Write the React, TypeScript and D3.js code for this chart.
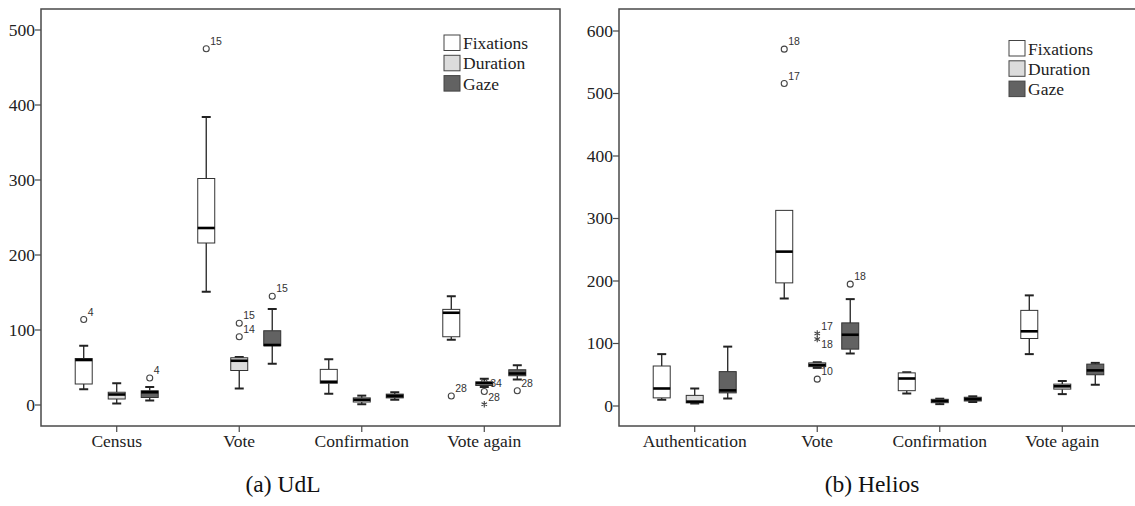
import React from "react";
import * as d3 from "d3";

// ---- data ----
const seriesNames = ["Fixations", "Duration", "Gaze"];
const seriesFill = ["#ffffff", "#dcdcdc", "#626262"];

const udlCategories = ["Census", "Vote", "Confirmation", "Vote again"];
// [min, q1, median, q3, max]
const udlFixations = [
  [21, 28, 60, 62, 79],
  [151, 216, 236, 302, 384],
  [15, 29, 31, 47.5, 61],
  [87, 91, 123, 127.5, 145],
];
const udlDuration = [
  [2, 8, 14, 17, 29],
  [22, 46, 59, 63, 64],
  [1, 4, 7, 9.5, 12.5],
  [24, 26, 29, 31, 35],
];
const udlGaze = [
  [6, 10, 17, 19, 24],
  [55, 79, 80, 99, 128],
  [7, 9.5, 12, 14.5, 17],
  [34, 39, 42, 47, 53],
];
const udlOutliers = [
  { cat: "Census", series: "Fixations", value: 114, label: "4", kind: "circle", pos: "ur" },
  { cat: "Census", series: "Gaze", value: 36, label: "4", kind: "circle", pos: "ur" },
  { cat: "Vote", series: "Fixations", value: 475, label: "15", kind: "circle", pos: "ur" },
  { cat: "Vote", series: "Duration", value: 109, label: "15", kind: "circle", pos: "ur" },
  { cat: "Vote", series: "Duration", value: 91, label: "14", kind: "circle", pos: "ur" },
  { cat: "Vote", series: "Gaze", value: 145, label: "15", kind: "circle", pos: "ur" },
  { cat: "Vote again", series: "Fixations", value: 12, label: "28", kind: "circle", pos: "ur" },
  { cat: "Vote again", series: "Duration", value: 30, label: "34", kind: "circle", pos: "r" },
  { cat: "Vote again", series: "Duration", value: 18, label: "28", kind: "circle", pos: "dr" },
  { cat: "Vote again", series: "Duration", value: 1, label: "", kind: "star", pos: "ur" },
  { cat: "Vote again", series: "Gaze", value: 19, label: "28", kind: "circle", pos: "ur" },
];
const udlTicks = [0, 100, 200, 300, 400, 500];

const heliosCategories = ["Authentication", "Vote", "Confirmation", "Vote again"];
const heliosFixations = [
  [10, 13, 28, 64, 83],
  [172, 197, 247, 313, 313],
  [20, 24.5, 44, 53, 54],
  [83, 108, 119.5, 153, 177],
];
const heliosDuration = [
  [4, 5, 7, 17, 28],
  [61, 63, 65.5, 69, 70],
  [3, 5.3, 8, 10.7, 11.7],
  [19, 27, 31.5, 35, 40],
];
const heliosGaze = [
  [12, 21, 25, 55, 95],
  [84, 91, 114, 133, 171],
  [6.4, 8, 11, 14, 15.5],
  [34, 50, 57, 67, 69],
];
const heliosOutliers = [
  { cat: "Vote", series: "Fixations", value: 571, label: "18", kind: "circle", pos: "ur" },
  { cat: "Vote", series: "Fixations", value: 516, label: "17", kind: "circle", pos: "ur" },
  { cat: "Vote", series: "Duration", value: 116, label: "17", kind: "star", pos: "ur" },
  { cat: "Vote", series: "Duration", value: 107, label: "18", kind: "star", pos: "dr" },
  { cat: "Vote", series: "Duration", value: 43, label: "10", kind: "circle", pos: "ur" },
  { cat: "Vote", series: "Gaze", value: 195, label: "18", kind: "circle", pos: "ur" },
];
const heliosTicks = [0, 100, 200, 300, 400, 500, 600];

const SERIF = "'Liberation Serif', 'Times New Roman', serif";
const SANS = "'Liberation Sans', Arial, sans-serif";
const FRAME = "#4a4a4a";

type Outlier = { cat: string; series: string; value: number; label: string; kind: string; pos: string };

function Panel(props: {
  left: number; right: number; top: number; bottom: number;
  yDomain: [number, number]; ticks: number[];
  categories: string[]; data: number[][][]; outliers: Outlier[];
  legendX: number; legendY: number; caption: string; captionX: number;
}) {
  const { left, right, top, bottom, yDomain, ticks, categories, data, outliers, legendX, legendY, caption, captionX } = props;
  const y = d3.scaleLinear().domain(yDomain).range([bottom, top]);
  const x = d3.scalePoint<string>().domain(categories).range([left, left + 519]).padding(0.618);
  const off = d3.scaleBand<string>().domain(seriesNames).range([-49.5, 49.5]);
  const boxW = 17;
  const capW = 9;
  const sx = (cat: string, s: string) => (x(cat) as number) + (off(s) as number) + off.bandwidth() / 2;
  const star = d3.symbol(d3.symbolAsterisk, 28)();

  return (
    <g>
      {/* frame */}
      <rect x={left} y={top} width={right - left} height={bottom - top} fill="none" stroke={FRAME} strokeWidth={1.5} />
      {/* y ticks */}
      {ticks.map((t) => (
        <g key={t}>
          <line x1={left - 6} x2={left} y1={y(t)} y2={y(t)} stroke={FRAME} strokeWidth={1.2} />
          <text x={left - 6} y={y(t)} dy="0.33em" textAnchor="end" fontFamily={SERIF} fontSize={17.5} fill="#222">
            {t}
          </text>
        </g>
      ))}
      {/* x ticks */}
      {categories.map((c) => (
        <g key={c}>
          <line x1={x(c)} x2={x(c)} y1={bottom} y2={bottom + 6} stroke={FRAME} strokeWidth={1.2} />
          <text x={x(c)} y={bottom + 21} textAnchor="middle" fontFamily={SERIF} fontSize={17.5} fill="#222">
            {c}
          </text>
        </g>
      ))}
      {/* outlier markers drawn beneath boxes */}
      {outliers.map((o, i) => {
        const cx = sx(o.cat, o.series);
        const cy = y(o.value);
        return o.kind === "star" ? (
          <path key={i} d={star as string} transform={`translate(${cx},${cy})`} fill="none" stroke="#444" strokeWidth={1.1} />
        ) : (
          <circle key={i} cx={cx} cy={cy} r={3} fill="#fff" stroke="#444" strokeWidth={1.1} />
        );
      })}
      {/* boxes */}
      {categories.map((c, ci) =>
        seriesNames.map((s, si) => {
          const [mn, q1, md, q3, mx] = data[si][ci];
          const cx = sx(c, s);
          return (
            <g key={c + s}>
              <line x1={cx} x2={cx} y1={y(mx)} y2={y(q3)} stroke="#222" strokeWidth={1.3} />
              <line x1={cx} x2={cx} y1={y(q1)} y2={y(mn)} stroke="#222" strokeWidth={1.3} />
              {mx > q3 && <line x1={cx - capW / 2} x2={cx + capW / 2} y1={y(mx)} y2={y(mx)} stroke="#222" strokeWidth={2} />}
              {mn < q1 && <line x1={cx - capW / 2} x2={cx + capW / 2} y1={y(mn)} y2={y(mn)} stroke="#222" strokeWidth={2} />}
              <rect x={cx - boxW / 2} y={y(q3)} width={boxW} height={Math.max(1, y(q1) - y(q3))} fill={seriesFill[si]} stroke="#333" strokeWidth={1} />
              <line x1={cx - boxW / 2} x2={cx + boxW / 2} y1={y(md)} y2={y(md)} stroke="#000" strokeWidth={2.6} />
            </g>
          );
        })
      )}
      {/* outlier labels */}
      {outliers.map((o, i) => {
        if (!o.label) return null;
        const cx = sx(o.cat, o.series);
        const cy = y(o.value);
        const dx = o.pos === "r" ? 6 : 4;
        const dy = o.pos === "dr" ? 9 : o.pos === "r" ? 4 : -4;
        return (
          <text key={"l" + i} x={cx + dx} y={cy + dy} fontFamily={SANS} fontSize={10.5} fill="#333">
            {o.label}
          </text>
        );
      })}
      {/* legend */}
      {seriesNames.map((s, i) => (
        <g key={s}>
          <rect x={legendX} y={legendY + i * 20.3} width={16} height={15.5} fill={seriesFill[i]} stroke="#444" strokeWidth={1} />
          <text x={legendX + 19} y={legendY + i * 20.3 + 14} fontFamily={SERIF} fontSize={17.5} fill="#222">
            {s}
          </text>
        </g>
      ))}
      <text x={captionX} y={492} textAnchor="middle" fontFamily={SERIF} fontSize={23.5} fill="#111">
        {caption}
      </text>
    </g>
  );
}

export default function App() {
  return (
    <svg width={1135} height={506} style={{ position: "absolute", left: 0, top: 0, background: "#fff" }}>
      <rect x={0} y={0} width={1135} height={506} fill="#fff" />
      <Panel
        left={41} right={560} top={9} bottom={426}
        yDomain={[-28, 528]} ticks={udlTicks}
        categories={udlCategories} data={[udlFixations, udlDuration, udlGaze]} outliers={udlOutliers}
        legendX={444} legendY={35} caption="(a) UdL" captionX={283}
      />
      <Panel
        left={619} right={1138} top={9} bottom={426}
        yDomain={[-32, 635.2]} ticks={heliosTicks}
        categories={heliosCategories} data={[heliosFixations, heliosDuration, heliosGaze]} outliers={heliosOutliers}
        legendX={1009} legendY={40.5} caption="(b) Helios" captionX={872}
      />
    </svg>
  );
}
